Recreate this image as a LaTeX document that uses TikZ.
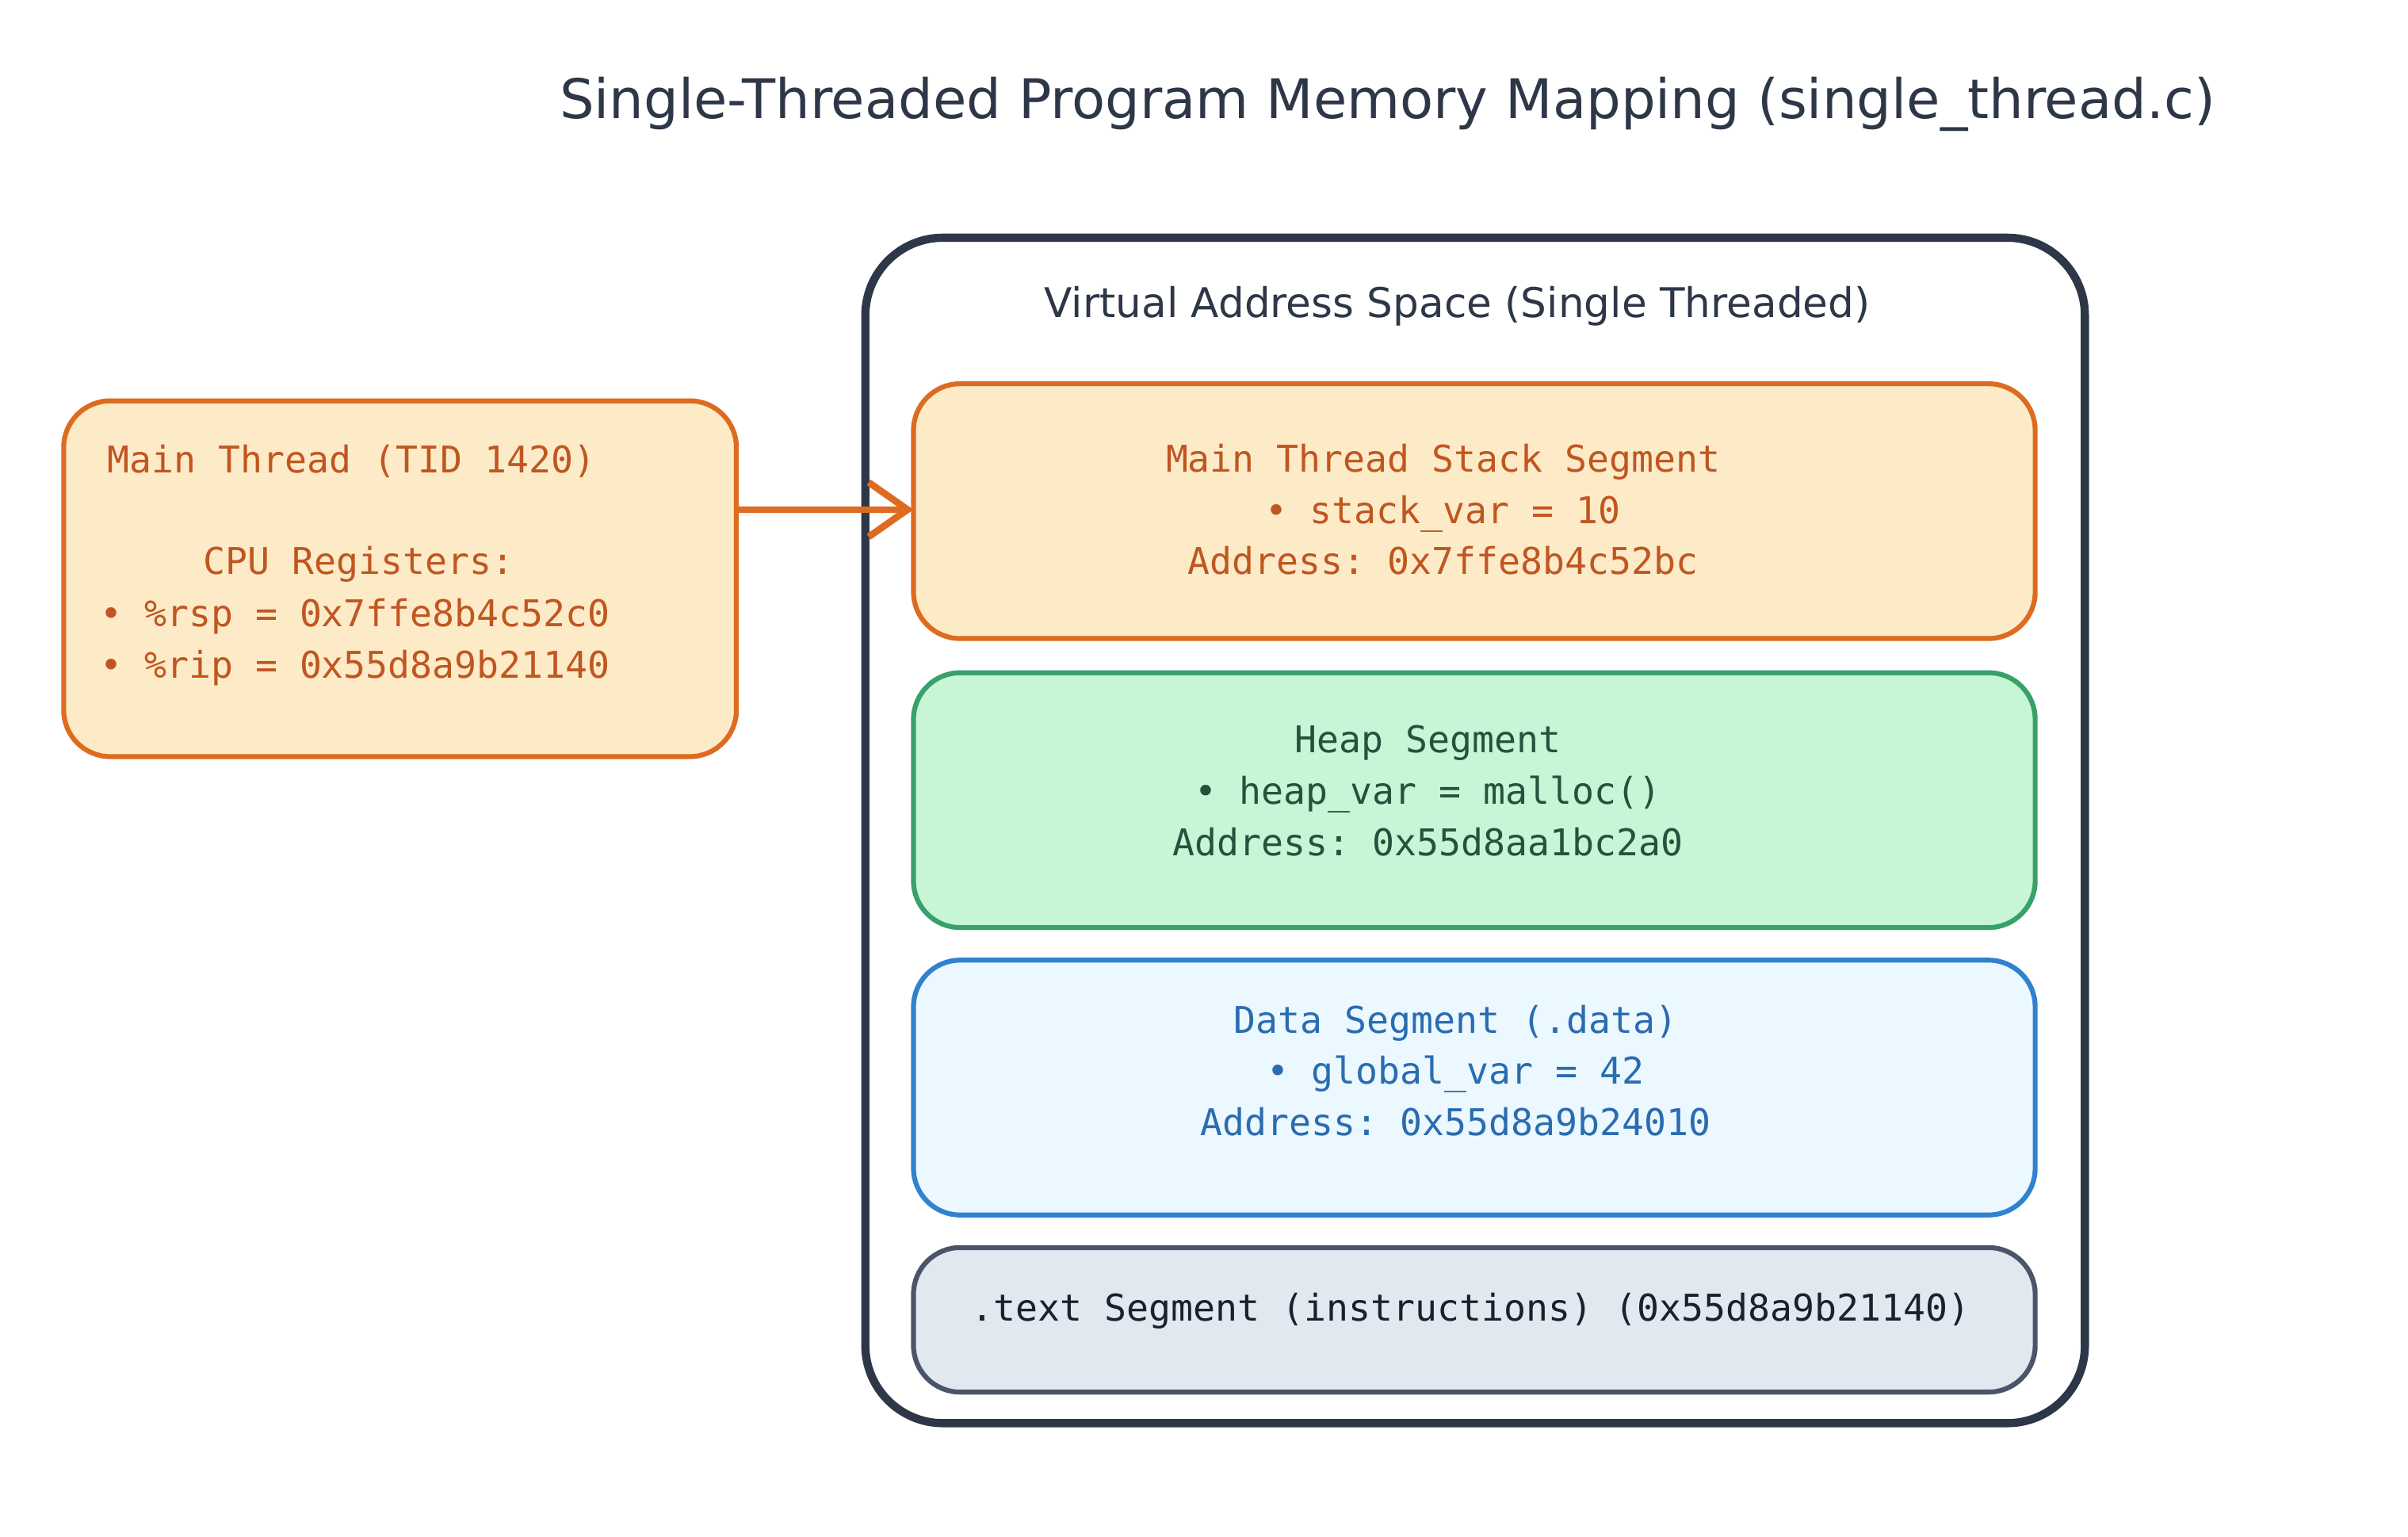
\documentclass[tikz,border=0pt]{standalone}
\usepackage{fontspec}
\setmainfont{DejaVu Sans}
\setmonofont{DejaVu Sans Mono}
\usetikzlibrary{arrows.meta}
\definecolor{dark}{HTML}{2D3748}
\definecolor{ofill}{HTML}{FDEBC8}
\definecolor{ostroke}{HTML}{DD6B20}
\definecolor{otext}{HTML}{C05621}
\definecolor{gfill}{HTML}{C6F6D5}
\definecolor{gstroke}{HTML}{38A169}
\definecolor{gtext}{HTML}{22543D}
\definecolor{bfill}{HTML}{EBF8FF}
\definecolor{bstroke}{HTML}{3182CE}
\definecolor{btext}{HTML}{2B6CB0}
\definecolor{sfill}{HTML}{E2E8F0}
\definecolor{sstroke}{HTML}{4A5568}
\definecolor{stext}{HTML}{1A202C}
\tikzset{
  seg/.style={rounded corners=0.6cm, line width=1.8pt},
  mono/.style={font=\ttfamily\fontsize{13.5}{16}\selectfont, inner sep=0pt},
  lines/.style={mono, align=center, execute at begin node=\setlength{\baselineskip}{0.66cm}}
}
\begin{document}
\begin{tikzpicture}[x=0.02cm,y=-0.02cm]
\useasboundingbox (0,0) rectangle (1550,988.8);
\node[font=\fontsize{20}{24}\selectfont, text=dark] (title) at (893,67) {Single-Threaded Program Memory Mapping (single\_thread.c)};
\draw[dark, line width=3pt, rounded corners=1cm] (557,153) rectangle (1342,916);
\node[font=\fontsize{15}{18}\selectfont, text=dark] (vas) at (938,197) {Virtual Address Space (Single Threaded)};
\draw[seg, draw=ostroke, fill=ofill] (588,247) rectangle (1310,411);
\node[lines, text=otext] (stack) at (929,328) {Main Thread Stack Segment\\• stack\_var = 10\\Address: 0x7ffe8b4c52bc};
\draw[seg, draw=gstroke, fill=gfill] (588,433) rectangle (1310,597);
\node[lines, text=gtext] (heap) at (919,509) {Heap Segment\\• heap\_var = malloc()\\Address: 0x55d8aa1bc2a0};
\draw[seg, draw=bstroke, fill=bfill] (588,618) rectangle (1310,782);
\node[lines, text=btext] (data) at (937,689) {Data Segment (.data)\\• global\_var = 42\\Address: 0x55d8a9b24010};
\draw[seg, draw=sstroke, fill=sfill] (588,803) rectangle (1310,896);
\node[mono, text=stext, anchor=west] (text) at (625,844) {.text Segment (instructions) (0x55d8a9b21140)};
\draw[seg, draw=ostroke, fill=ofill] (41,258) rectangle (474,487);
\node[mono, text=otext, anchor=west] (mt) at (69,297) {Main Thread (TID 1420)};
\node[mono, text=otext] (cpu) at (231,363) {CPU Registers:};
\node[mono, text=otext, anchor=west] (rsp) at (64,397) {• \%rsp = 0x7ffe8b4c52c0};
\node[mono, text=otext, anchor=west] (rip) at (64,430) {• \%rip = 0x55d8a9b21140};
\coordinate (a1) at (474,328);
\coordinate (a2) at (588,328);
\draw[ostroke, line width=2.5pt, -{Straight Barb[length=0.5cm,width=0.7cm]}] (a1) -- (a2);
\end{tikzpicture}
\end{document}
